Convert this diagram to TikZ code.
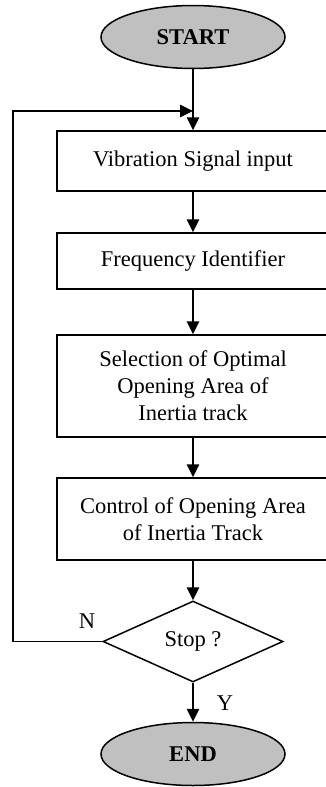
\documentclass[tikz,border=0pt]{standalone}
\usepackage{fontspec}
\setmainfont{Liberation Serif}
\usetikzlibrary{shapes.geometric,arrows.meta}
\definecolor{termgray}{RGB}{192,192,192}
\tikzset{
  base/.style={draw=black, line width=1.5pt, inner sep=0pt, font=\fontsize{22.5}{27}\selectfont, align=center},
  term/.style={base, ellipse, fill=termgray, minimum width=184pt, minimum height=63pt, font=\fontsize{22.5}{27}\selectfont\bfseries},
  procbox/.style={base, rectangle, minimum width=272pt},
  decision/.style={base, diamond, minimum width=180pt, minimum height=81pt, aspect=2.2},
  conn/.style={line width=1.5pt, -{Triangle[length=13pt,width=12.5pt]}},
  lbl/.style={font=\fontsize{22.5}{27}\selectfont, inner sep=0pt}
}
\begin{document}
\begin{tikzpicture}[x=1pt,y=1pt]
\useasboundingbox (0,0) rectangle (326,-787);
\node[term] (start) at (193,-37) {START};
\node[procbox, minimum height=60pt] (b1) at (193,-161) {Vibration Signal input};
\node[procbox, minimum height=56pt] (b2) at (193,-261) {Frequency Identifier};
\node[procbox, minimum height=102pt] (b3) at (193,-386) {Selection of Optimal\\Opening Area of\\Inertia track};
\node[procbox, minimum height=82pt] (b4) at (193,-519) {Control of Opening Area\\of Inertia Track};
\node[decision] (dec) at (193,-641.5) {Stop ?};
\node[term] (end) at (193,-754) {END};
\coordinate (join) at (193,-111);
\coordinate (c1) at (13,-641.5);
\coordinate (c2) at (13,-111);
\draw[conn] (start) -- (b1);
\draw[conn] (b1) -- (b2);
\draw[conn] (b2) -- (b3);
\draw[conn] (b3) -- (b4);
\draw[conn] (b4) -- (dec);
\draw[conn] (dec) -- (end);
\draw[conn] (dec.west) -- (c1) -- (c2) -- (join);
\node[lbl] (n) at (87,-621) {N};
\node[lbl] (y) at (225,-703) {Y};
\end{tikzpicture}
\end{document}
